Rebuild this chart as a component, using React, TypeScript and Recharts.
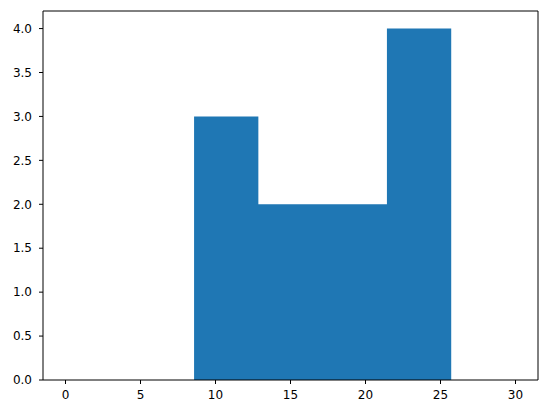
import React from "react";
import { ComposedChart, Area, XAxis, YAxis, ReferenceLine } from "recharts";

const binEdges = [0, 4.2857, 8.5714, 12.8571, 17.1429, 21.4286, 25.7143, 30];
const counts = [0, 0, 3, 2, 2, 4, 0];
const xTicks = [0, 5, 10, 15, 20, 25, 30];
const yTicks = [0, 0.5, 1, 1.5, 2, 2.5, 3, 3.5, 4];
const xDomain = [-1.5, 31.5];
const yDomain = [0, 4.2];

const data = binEdges.map((e, i) => ({
  edge: e,
  count: i < counts.length ? counts[i] : counts[counts.length - 1],
}));

const font = { fontFamily: "DejaVu Sans", fontSize: 12, fill: "#000" };

export default function App() {
  return (
    <div style={{ position: "absolute", left: 0, top: 0 }}>
      <ComposedChart
        width={547}
        height={413}
        data={data}
        margin={{ top: 11, right: 9, bottom: 0, left: 0 }}
      >
        <XAxis
          dataKey="edge"
          type="number"
          domain={xDomain}
          ticks={xTicks}
          allowDataOverflow
          height={33}
          stroke="#000"
          tickSize={4}
          tickMargin={6}
          tick={font}
        />
        <YAxis
          type="number"
          domain={yDomain}
          ticks={yTicks}
          allowDataOverflow
          width={43}
          stroke="#000"
          tickSize={4}
          tickMargin={7}
          tick={font}
          tickFormatter={(v: number) => v.toFixed(1)}
        />
        <Area
          type="stepAfter"
          dataKey="count"
          stroke="none"
          fill="#1f77b4"
          fillOpacity={1}
          isAnimationActive={false}
          dot={false}
          activeDot={false}
        />
        <ReferenceLine y={yDomain[1]} stroke="#000" strokeWidth={1} />
        <ReferenceLine x={xDomain[1]} stroke="#000" strokeWidth={1} />
      </ComposedChart>
    </div>
  );
}
